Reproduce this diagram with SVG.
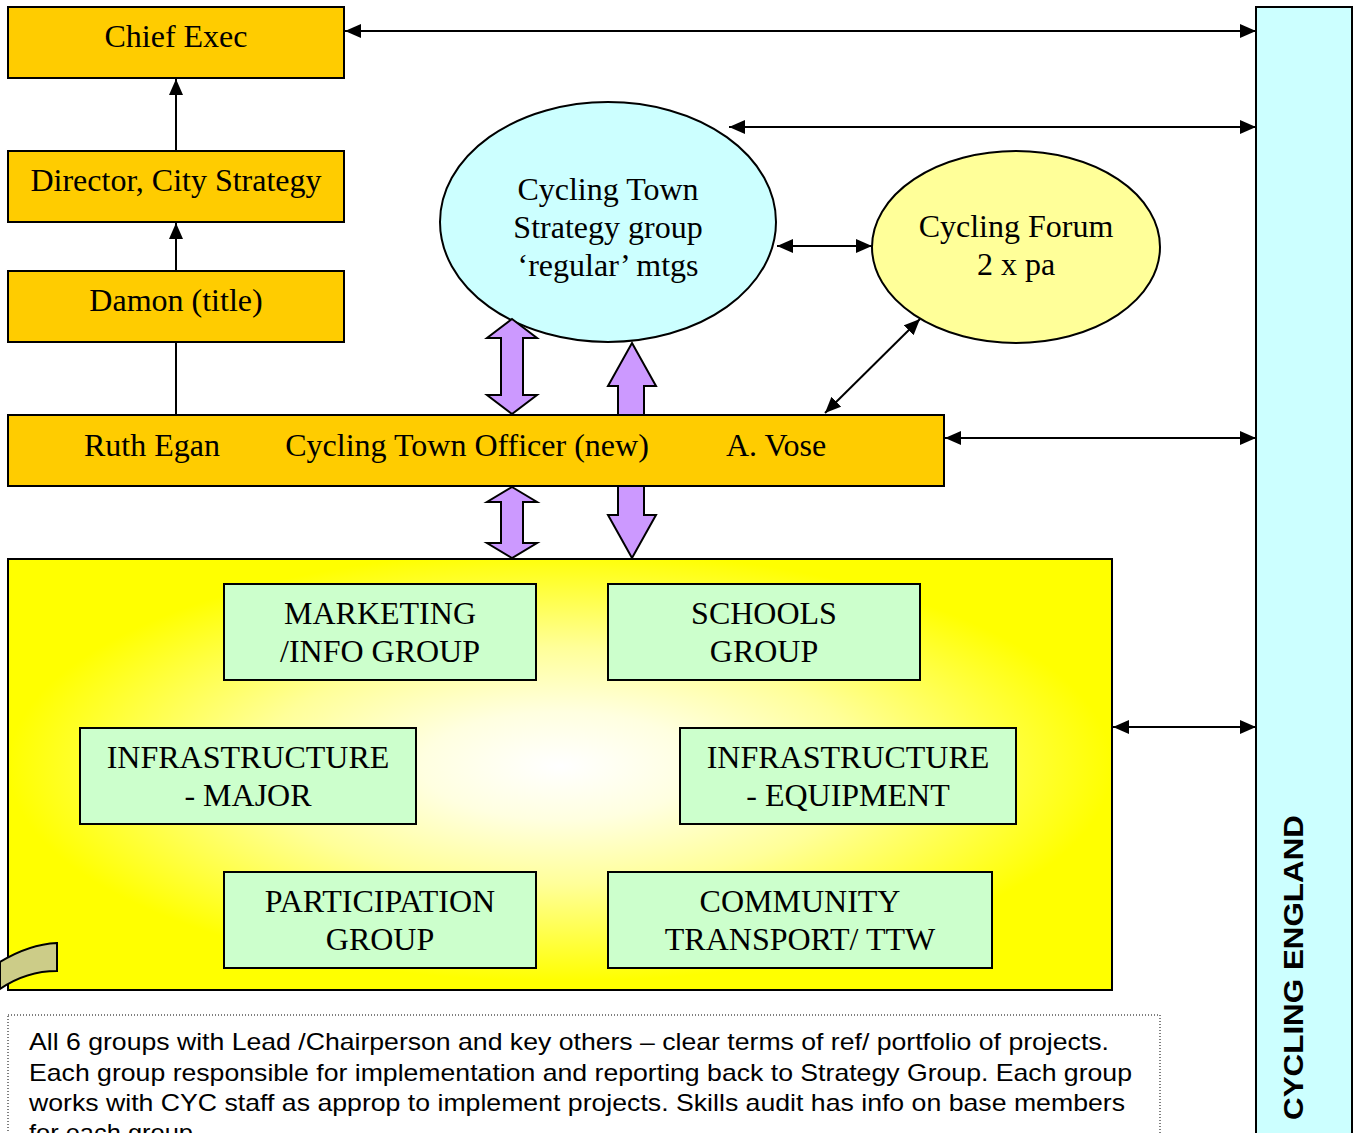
<svg xmlns="http://www.w3.org/2000/svg" width="1356" height="1133" viewBox="0 0 1356 1133">
<defs>
<marker id="ah" markerUnits="userSpaceOnUse" markerWidth="16" markerHeight="14" refX="16" refY="7" orient="auto-start-reverse"><path d="M0,0 L16,7 L0,14 Z" fill="#000"/></marker>
<radialGradient id="yg" cx="0.5" cy="0.48" r="0.5">
<stop offset="0" stop-color="#FFFFFF"/>
<stop offset="0.25" stop-color="#FFFFE0"/>
<stop offset="0.55" stop-color="#FFFF99"/>
<stop offset="1" stop-color="#FFFF00"/>
</radialGradient>
<style>
.org{fill:#FFCC00;stroke:#000;stroke-width:2}
.grn{fill:#CCFFCC;stroke:#000;stroke-width:2}
.ser{font-family:"Liberation Serif","Times New Roman",serif;font-size:32px;fill:#000;text-anchor:middle}
.san{font-family:"Liberation Sans",Arial,sans-serif;font-size:24px;fill:#000}
.ln{stroke:#000;stroke-width:2;fill:none}
.dbl{marker-start:url(#ah);marker-end:url(#ah)}
.one{marker-end:url(#ah)}
.pur{fill:#CC99FF;stroke:#000;stroke-width:2;stroke-linejoin:miter}
</style>
</defs>
<rect width="1356" height="1133" fill="#fff"/>

<g id="connectors">
<path class="pur" d="M632,343 L656,386 L644,386 L644,515 L656,515 L632,558 L608,515 L618,515 L618,386 L608,386 Z"/>
<line class="ln one" x1="176" y1="151" x2="176" y2="79"/>
<line class="ln one" x1="176" y1="271" x2="176" y2="223"/>
<line class="ln" x1="176" y1="342" x2="176" y2="415"/>
<line class="ln dbl" x1="345" y1="31" x2="1256" y2="31"/>
<line class="ln dbl" x1="729" y1="127" x2="1256" y2="127"/>
<line class="ln dbl" x1="777" y1="246" x2="872" y2="246"/>
<line class="ln dbl" x1="920" y1="319" x2="825" y2="413"/>
<line class="ln dbl" x1="945" y1="438" x2="1256" y2="438"/>
<line class="ln dbl" x1="1113" y1="727" x2="1256" y2="727"/>
</g>

<g id="chief-exec">
<rect class="org" x="8" y="7" width="336" height="71"/>
<text class="ser" x="176" y="47">Chief Exec</text>
</g>
<g id="director">
<rect class="org" x="8" y="151" width="336" height="71"/>
<text class="ser" x="176" y="191">Director, City Strategy</text>
</g>
<g id="damon">
<rect class="org" x="8" y="271" width="336" height="71"/>
<text class="ser" x="176" y="311">Damon (title)</text>
</g>

<g id="strategy-group">
<ellipse cx="608" cy="222" rx="168" ry="120" fill="#CCFFFF" stroke="#000" stroke-width="2"/>
<text class="ser" x="608" y="200">Cycling Town</text>
<text class="ser" x="608" y="238">Strategy group</text>
<text class="ser" x="608" y="276">‘regular’ mtgs</text>
</g>

<g id="cycling-forum">
<ellipse cx="1016" cy="247" rx="144" ry="96" fill="#FFFF99" stroke="#000" stroke-width="2"/>
<text class="ser" x="1016" y="237">Cycling Forum</text>
<text class="ser" x="1016" y="275">2 x pa</text>
</g>

<g id="officer-bar">
<rect class="org" x="8" y="415" width="936" height="71"/>
<text class="ser" x="152" y="456">Ruth Egan</text>
<text class="ser" x="467" y="456">Cycling Town Officer (new)</text>
<text class="ser" x="776" y="456">A. Vose</text>
</g>

<g id="purple-arrows">
<path class="pur" d="M512,319 L537,338 L523,338 L523,395 L537,395 L512,414 L487,395 L501,395 L501,338 L487,338 Z"/>
<path class="pur" d="M512,487 L537,502 L523,502 L523,543 L537,543 L512,558 L487,543 L501,543 L501,502 L487,502 Z"/>
</g>

<g id="groups-box">
<rect x="8" y="559" width="1104" height="431" fill="url(#yg)" stroke="#000" stroke-width="2"/>
<path d="M57,943 L57,971 C35,971 16,978 0,989 L0,962 C18,951 37,944 57,943 Z" fill="#CCCC88" stroke="#000" stroke-width="2"/>
</g>

<g id="marketing">
<rect class="grn" x="224" y="584" width="312" height="96"/>
<text class="ser" x="380" y="624">MARKETING</text>
<text class="ser" x="380" y="662">/INFO GROUP</text>
</g>
<g id="schools">
<rect class="grn" x="608" y="584" width="312" height="96"/>
<text class="ser" x="764" y="624">SCHOOLS</text>
<text class="ser" x="764" y="662">GROUP</text>
</g>
<g id="infra-major">
<rect class="grn" x="80" y="728" width="336" height="96"/>
<text class="ser" x="248" y="768">INFRASTRUCTURE</text>
<text class="ser" x="248" y="806">- MAJOR</text>
</g>
<g id="infra-equipment">
<rect class="grn" x="680" y="728" width="336" height="96"/>
<text class="ser" x="848" y="768">INFRASTRUCTURE</text>
<text class="ser" x="848" y="806">- EQUIPMENT</text>
</g>
<g id="participation">
<rect class="grn" x="224" y="872" width="312" height="96"/>
<text class="ser" x="380" y="912">PARTICIPATION</text>
<text class="ser" x="380" y="950">GROUP</text>
</g>
<g id="community">
<rect class="grn" x="608" y="872" width="384" height="96"/>
<text class="ser" x="800" y="912">COMMUNITY</text>
<text class="ser" x="800" y="950">TRANSPORT/ TTW</text>
</g>

<g id="cycling-england">
<rect x="1256" y="7" width="96" height="1140" fill="#CCFFFF" stroke="#000" stroke-width="2"/>
<text transform="translate(1303,1120) rotate(-90)" font-family="'Liberation Sans',Arial,sans-serif" font-weight="bold" font-size="27" textLength="305" lengthAdjust="spacingAndGlyphs">CYCLING ENGLAND</text>
</g>

<g id="note">
<rect x="8" y="1015" width="1152" height="130" fill="#fff" stroke="#000" stroke-width="1" stroke-dasharray="1,2"/>
<text class="san" x="29" y="1050" textLength="1080" lengthAdjust="spacingAndGlyphs">All 6 groups with Lead /Chairperson and key others – clear terms of ref/ portfolio of projects.</text>
<text class="san" x="29" y="1081" textLength="1103" lengthAdjust="spacingAndGlyphs">Each group responsible for implementation and reporting back to Strategy Group. Each group</text>
<text class="san" x="29" y="1111" textLength="1096" lengthAdjust="spacingAndGlyphs">works with CYC staff as approp to implement projects. Skills audit has info on base members</text>
<text class="san" x="29" y="1141" textLength="171" lengthAdjust="spacingAndGlyphs">for each group.</text>
</g>
</svg>
